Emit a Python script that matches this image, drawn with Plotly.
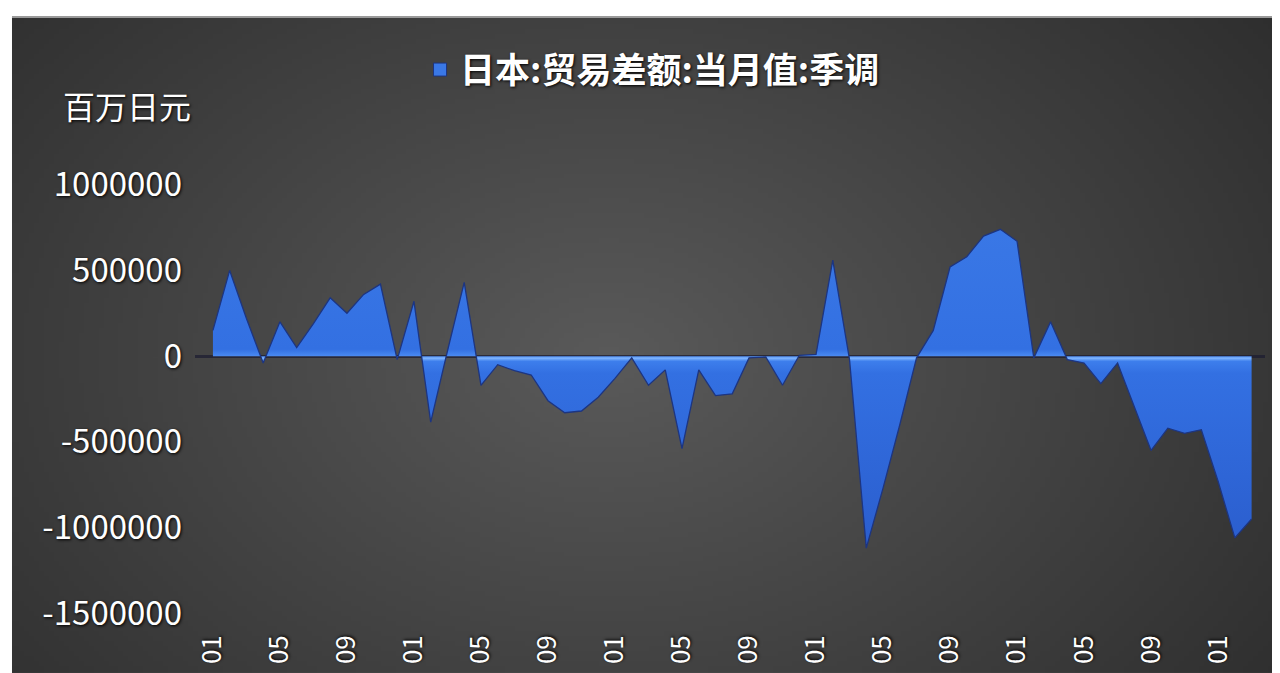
import base64
import struct
import zlib

import numpy as np
import plotly.graph_objects as go

# ---------------- data ----------------
months = [f"{y}-{m:02d}" for y in range(2017, 2023) for m in range(1, 13)][:63]

trade_balance = [
    150000, 500000, 220000, -40000, 200000, 50000, 190000, 340000, 250000, 360000,
    420000, -20000, 320000, -385000, 30000, 430000, -170000, -50000, -85000, -110000,
    -260000, -330000, -320000, -240000, -130000, -10000, -170000, -80000, -540000, -80000,
    -230000, -220000, -10000, -5000, -170000, 5000, 10000, 560000, -20000, -1120000,
    -770000, -400000, -10000, 150000, 520000, 580000, 700000, 740000, 670000, -10000,
    200000, -20000, -40000, -160000, -40000, -300000, -550000, -420000, -450000, -430000,
    -730000, -1060000, -950000,
]

tick_months = months[::4]
tick_labels = [m[-2:] for m in tick_months]
y_ticks = [-1500000, -1000000, -500000, 0, 500000, 1000000]
y_tick_text = [str(v) for v in y_ticks]

series_name = "日本:贸易差额:当月值:季调"
unit_label = "百万日元"


# ---------------- background gradient image ----------------
def make_png(arr):
    h, w, _ = arr.shape
    raw = b"".join(b"\x00" + arr[r].astype(np.uint8).tobytes() for r in range(h))

    def chunk(tag, data):
        c = struct.pack(">I", len(data)) + tag + data
        return c + struct.pack(">I", zlib.crc32(tag + data) & 0xFFFFFFFF)

    png = b"\x89PNG\r\n\x1a\n"
    png += chunk(b"IHDR", struct.pack(">IIBBBBB", w, h, 8, 2, 0, 0, 0))
    png += chunk(b"IDAT", zlib.compress(raw, 9))
    png += chunk(b"IEND", b"")
    return "data:image/png;base64," + base64.b64encode(png).decode()


W, H = 256, 132
u = (np.arange(W) + 0.5) / W
v = (np.arange(H) + 0.5) / H
U, V = np.meshgrid(u, v)
d = np.sqrt(((U - 0.47) / 0.55) ** 2 + ((V - 0.52) / 0.75) ** 2)
val = 90 - 46 * np.clip(d, 0, 1.25) / 1.25
img = np.stack([val, val, val], axis=-1)
bg_src = make_png(img)

# ---------------- figure ----------------
fig = go.Figure()

fig.add_trace(
    go.Scatter(
        x=months,
        y=trade_balance,
        mode="lines",
        fill="tozeroy",
        line=dict(color="#1d3580", width=1.3),
        fillgradient=dict(
            type="vertical",
            start=-1200000,
            stop=800000,
            colorscale=[
                [0.0, "#2a5ccc"],
                [0.55, "#3370e2"],
                [0.585, "#3d7eec"],
                [0.594, "#80b6ff"],
                [0.6, "#4a8af2"],
                [0.62, "#3370e2"],
                [1.0, "#3a78e6"],
            ],
        ),
        showlegend=False,
        hoverinfo="x+y",
    )
)

# legend entry
fig.add_trace(
    go.Scatter(
        x=[None],
        y=[None],
        mode="markers",
        marker=dict(symbol="square", size=13, color="#3a78e6",
                    line=dict(color="#1d3580", width=1)),
        name=series_name,
        showlegend=True,
    )
)

shadow = "1px 1px 3px #000000"
base_font = "Noto Sans CJK SC, Noto Sans, sans-serif"

fig.update_layout(
    width=1272,
    height=665,
    margin=dict(l=187, r=15, t=175, b=58),
    paper_bgcolor="white",
    plot_bgcolor="rgba(0,0,0,0)",
    font=dict(family=base_font, color="white"),
    images=[
        dict(
            source=bg_src,
            xref="paper",
            yref="paper",
            x=-0.17103,
            y=1.3843,
            sizex=1.18505,
            sizey=1.5185,
            xanchor="left",
            yanchor="top",
            sizing="stretch",
            layer="below",
        )
    ],
    showlegend=True,
    legend=dict(
        orientation="h",
        x=0.2103,
        xanchor="left",
        y=1.262,
        yanchor="middle",
        bgcolor="rgba(0,0,0,0)",
        font=dict(family=base_font, size=35, color="white", weight="bold", shadow=shadow),
        itemwidth=30,
    ),
    annotations=[
        dict(
            text=unit_label,
            xref="paper",
            yref="paper",
            x=-0.0636,
            y=1.18,
            xanchor="center",
            yanchor="middle",
            showarrow=False,
            font=dict(family=base_font, size=32, color="white", shadow=shadow),
        )
    ],
    shapes=[
        dict(type="line", xref="paper", yref="paper",
             x0=-0.17103, x1=1.01402, y0=1.3843, y1=1.3843,
             line=dict(color="#9a9a9a", width=2)),
    ],
)

fig.update_xaxes(
    type="category",
    range=[-1.07, 62.8],
    tickmode="array",
    tickvals=tick_months,
    ticktext=tick_labels,
    tickangle=-90,
    showgrid=False,
    zeroline=False,
    showline=False,
    ticks="",
    ticklabelstandoff=14,
    automargin=False,
    tickfont=dict(family=base_font, size=26, color="white", shadow=shadow),
)

fig.update_yaxes(
    range=[-1510000, 1010000],
    tickmode="array",
    tickvals=y_ticks,
    ticktext=y_tick_text,
    showgrid=False,
    zeroline=True,
    zerolinecolor="rgba(30,30,50,0.75)",
    zerolinewidth=3,
    showline=False,
    ticks="",
    ticklabelstandoff=12,
    automargin=False,
    tickfont=dict(family=base_font, size=33, color="white", shadow=shadow),
)

fig.write_html("out.html")
